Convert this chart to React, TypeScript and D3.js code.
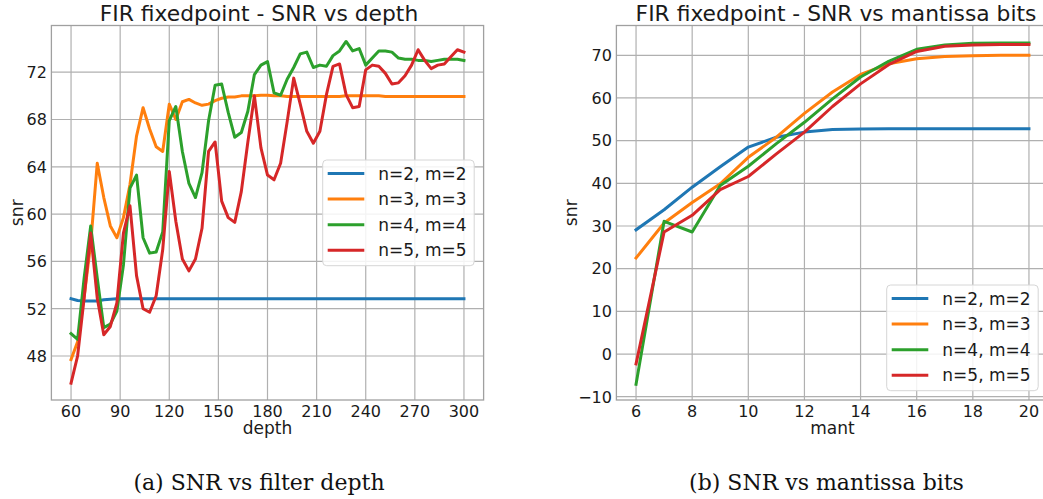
import React from 'react';
import * as d3 from 'd3';

// left panel: SNR vs filter depth
const depth = [60, 64, 68, 72, 76, 80, 84, 88, 92, 96, 100, 104, 108, 112, 116, 120, 124, 128, 132, 136,
  140, 144, 148, 152, 156, 160, 164, 168, 172, 176, 180, 184, 188, 192, 196, 200, 204, 208, 212, 216,
  220, 224, 228, 232, 236, 240, 244, 248, 252, 256, 260, 264, 268, 272, 276, 280, 284, 288, 292, 296, 300];

const depthN2 = [52.85, 52.7, 52.65, 52.65, 52.65, 52.75, 52.8, 52.85, 52.85, 52.85, 52.85, 52.85, 52.85, 52.85, 52.85, 52.85, 52.85, 52.85, 52.85, 52.85,
  52.85, 52.85, 52.85, 52.85, 52.85, 52.85, 52.85, 52.85, 52.85, 52.85, 52.85, 52.85, 52.85, 52.85, 52.85, 52.85, 52.85, 52.85, 52.85, 52.85,
  52.85, 52.85, 52.85, 52.85, 52.85, 52.85, 52.85, 52.85, 52.85, 52.85, 52.85, 52.85, 52.85, 52.85, 52.85, 52.85, 52.85, 52.85, 52.85, 52.85, 52.85];

const depthN3 = [47.7, 49.2, 53.0, 57.5, 64.3, 61.4, 59.0, 58.0, 59.7, 62.5, 66.6, 69.0, 67.2, 65.7, 65.3, 69.3, 68.0, 69.5, 69.7, 69.4,
  69.2, 69.3, 69.6, 69.8, 69.9, 69.9, 70.0, 70.0, 70.0, 70.05, 70.05, 70.0, 70.0, 69.95, 69.95, 69.95, 69.95, 69.95, 69.95, 69.95,
  69.95, 69.95, 70.0, 70.0, 70.0, 70.0, 70.0, 70.0, 69.95, 69.95, 69.95, 69.95, 69.95, 69.95, 69.95, 69.95, 69.95, 69.95, 69.95, 69.95, 69.95];

const depthN4 = [49.9, 49.4, 54.6, 59.0, 54.6, 50.4, 50.7, 51.8, 55.7, 62.2, 63.3, 58.0, 56.7, 56.8, 58.5, 67.9, 69.1, 65.3, 62.6, 61.4,
  63.5, 67.9, 70.9, 71.0, 68.6, 66.5, 66.9, 68.7, 71.8, 72.6, 72.9, 70.25, 70.05, 71.4, 72.4, 73.55, 73.7, 72.4, 72.6, 72.5,
  73.4, 73.8, 74.6, 73.8, 74.0, 72.6, 73.2, 73.8, 73.8, 73.7, 73.2, 73.1, 73.1, 73.0, 73.0, 72.9, 73.0, 73.1, 73.1, 73.1, 73.0];

const depthN5 = [45.7, 48.0, 52.9, 58.4, 52.9, 49.8, 50.5, 52.5, 58.4, 60.7, 54.8, 52.0, 51.7, 53.1, 57.0, 63.6, 59.4, 56.2, 55.2, 56.2,
  58.8, 65.3, 66.1, 61.1, 59.7, 59.3, 61.9, 66.1, 70.0, 65.6, 63.3, 62.9, 64.3, 67.8, 71.5, 69.3, 67.0, 66.0, 67.0, 70.1,
  72.5, 72.7, 70.1, 69.0, 69.1, 72.2, 72.6, 72.5, 71.9, 71.0, 71.1, 71.7, 72.6, 73.9, 73.0, 72.3, 72.6, 72.7, 73.3, 73.9, 73.7];

// right panel: SNR vs mantissa bits
const mant = [6, 7, 8, 9, 10, 11, 12, 13, 14, 15, 16, 17, 18, 19, 20];
const mantN2 = [29.1, 33.8, 39.1, 43.9, 48.5, 50.8, 52.0, 52.6, 52.7, 52.8, 52.8, 52.8, 52.8, 52.8, 52.8];
const mantN3 = [22.5, 30.7, 35.5, 39.9, 46.1, 50.8, 56.4, 61.4, 65.5, 68.0, 69.2, 69.7, 69.9, 70.0, 70.0];
const mantN4 = [-7.1, 31.1, 28.6, 39.5, 44.0, 49.3, 54.3, 59.8, 64.9, 68.6, 71.4, 72.4, 72.8, 72.9, 72.9];
const mantN5 = [-2.3, 28.6, 32.5, 38.5, 41.6, 46.9, 52.0, 58.0, 63.3, 67.8, 70.9, 72.1, 72.4, 72.5, 72.5];

const seriesNames = ['n=2, m=2', 'n=3, m=3', 'n=4, m=4', 'n=5, m=5'];
const colors = ['#1f77b4', '#ff7f0e', '#2ca02c', '#d62728'];

const depthTicks = [60, 90, 120, 150, 180, 210, 240, 270, 300];
const depthSnrTicks = [48, 52, 56, 60, 64, 68, 72];
const mantTicks = [6, 8, 10, 12, 14, 16, 18, 20];
const mantSnrTicks = [-10, 0, 10, 20, 30, 40, 50, 60, 70];

const font = 'DejaVu Sans, sans-serif';
const gridColor = '#b0b0b0';

const fmt = (v: number) => (v < 0 ? '\u2212' + Math.abs(v) : String(v));

type PanelProps = {
  id: string;
  xs: number[];
  series: number[][];
  xDomain: [number, number];
  yDomain: [number, number];
  left: number;
  right: number;
  xTicks: number[];
  yTicks: number[];
  title: string;
  titleX: number;
  xLabel: string;
  yLabelX: number;
  legendX: number;
  legendY: number;
};

function Panel(p: PanelProps) {
  const top = 25.5;
  const bottom = 400;
  const x = d3.scaleLinear().domain(p.xDomain).range([p.left, p.right]);
  const y = d3.scaleLinear().domain(p.yDomain).range([bottom, top]);
  const line = d3.line<[number, number]>()
    .x(d => x(d[0]))
    .y(d => y(d[1]));

  return (
    <g>
      <defs>
        <clipPath id={p.id}>
          <rect x={p.left} y={top} width={p.right - p.left} height={bottom - top} />
        </clipPath>
      </defs>

      {/* grid */}
      {p.xTicks.map(t => (
        <line key={'gx' + t} x1={x(t)} x2={x(t)} y1={top} y2={bottom} stroke={gridColor} strokeWidth={1.2} />
      ))}
      {p.yTicks.map(t => (
        <line key={'gy' + t} x1={p.left} x2={p.right} y1={y(t)} y2={y(t)} stroke={gridColor} strokeWidth={1.2} />
      ))}

      {/* series */}
      <g clipPath={`url(#${p.id})`}>
        {p.series.map((s, i) => (
          <path key={i} d={line(p.xs.map((v, j) => [v, s[j]] as [number, number])) || ''}
            fill="none" stroke={colors[i]} strokeWidth={3} strokeLinejoin="round" strokeLinecap="square" />
        ))}
      </g>

      {/* frame */}
      <rect x={p.left} y={top} width={p.right - p.left} height={bottom - top} fill="none" stroke="#a0a0a0" strokeWidth={1.3} />

      {/* tick labels */}
      {p.xTicks.map(t => (
        <text key={'tx' + t} x={x(t)} y={416.5} textAnchor="middle" fontSize={16} fontFamily={font} fill="#1a1a1a">{t}</text>
      ))}
      {p.yTicks.map(t => (
        <text key={'ty' + t} x={p.left - 4.5} y={y(t) + 5.8} textAnchor="end" fontSize={16} fontFamily={font} fill="#1a1a1a">{fmt(t)}</text>
      ))}

      {/* labels */}
      <text x={p.titleX} y={20.5} textAnchor="middle" fontSize={21.8} fontFamily={font} fill="#1a1a1a">{p.title}</text>
      <text x={(p.left + p.right) / 2} y={433.5} textAnchor="middle" fontSize={17} fontFamily={font} fill="#1a1a1a">{p.xLabel}</text>
      <text transform={`translate(${p.yLabelX},${(top + bottom) / 2}) rotate(-90)`} textAnchor="middle" fontSize={17.2} fontFamily={font} fill="#1a1a1a">snr</text>

      {/* legend */}
      <g transform={`translate(${p.legendX},${p.legendY})`}>
        <rect x={0} y={0} width={151.5} height={105.7} rx={4} fill="white" fillOpacity={0.85} stroke="#d6d6d6" strokeWidth={1} />
        {seriesNames.map((name, i) => (
          <g key={name} transform={`translate(0,${13.5 + i * 25.6})`}>
            <line x1={5} x2={41.6} y1={0} y2={0} stroke={colors[i]} strokeWidth={3} />
            <text x={55.6} y={6} fontSize={17} fontFamily={font} fill="#1a1a1a">{name}</text>
          </g>
        ))}
      </g>
    </g>
  );
}

export default function App() {
  return (
    <svg width={1043} height={499} style={{ position: 'absolute', left: 0, top: 0, background: 'white' }}>
      <rect width={1043} height={499} fill="white" />
      <Panel id="clipA" xs={depth} series={[depthN2, depthN3, depthN4, depthN5]}
        xDomain={[48, 312]} yDomain={[44.28, 75.95]} left={51.4} right={483.6}
        xTicks={depthTicks} yTicks={depthSnrTicks}
        title="FIR fixedpoint - SNR vs depth" titleX={259} xLabel="depth" yLabelX={23}
        legendX={322.7} legendY={160} />
      <Panel id="clipB" xs={mant} series={[mantN2, mantN3, mantN4, mantN5]}
        xDomain={[5.3, 20.7]} yDomain={[-10.77, 76.98]} left={616.4} right={1048.6}
        xTicks={mantTicks} yTicks={mantSnrTicks}
        title="FIR fixedpoint - SNR vs mantissa bits" titleX={836} xLabel="mant" yLabelX={577}
        legendX={886.7} legendY={285} />
      <text x={259} y={490} textAnchor="middle" fontSize={22} fontFamily="DejaVu Serif, serif" fill="#111">(a) SNR vs filter depth</text>
      <text x={826.5} y={490} textAnchor="middle" fontSize={22} fontFamily="DejaVu Serif, serif" fill="#111">(b) SNR vs mantissa bits</text>
    </svg>
  );
}
